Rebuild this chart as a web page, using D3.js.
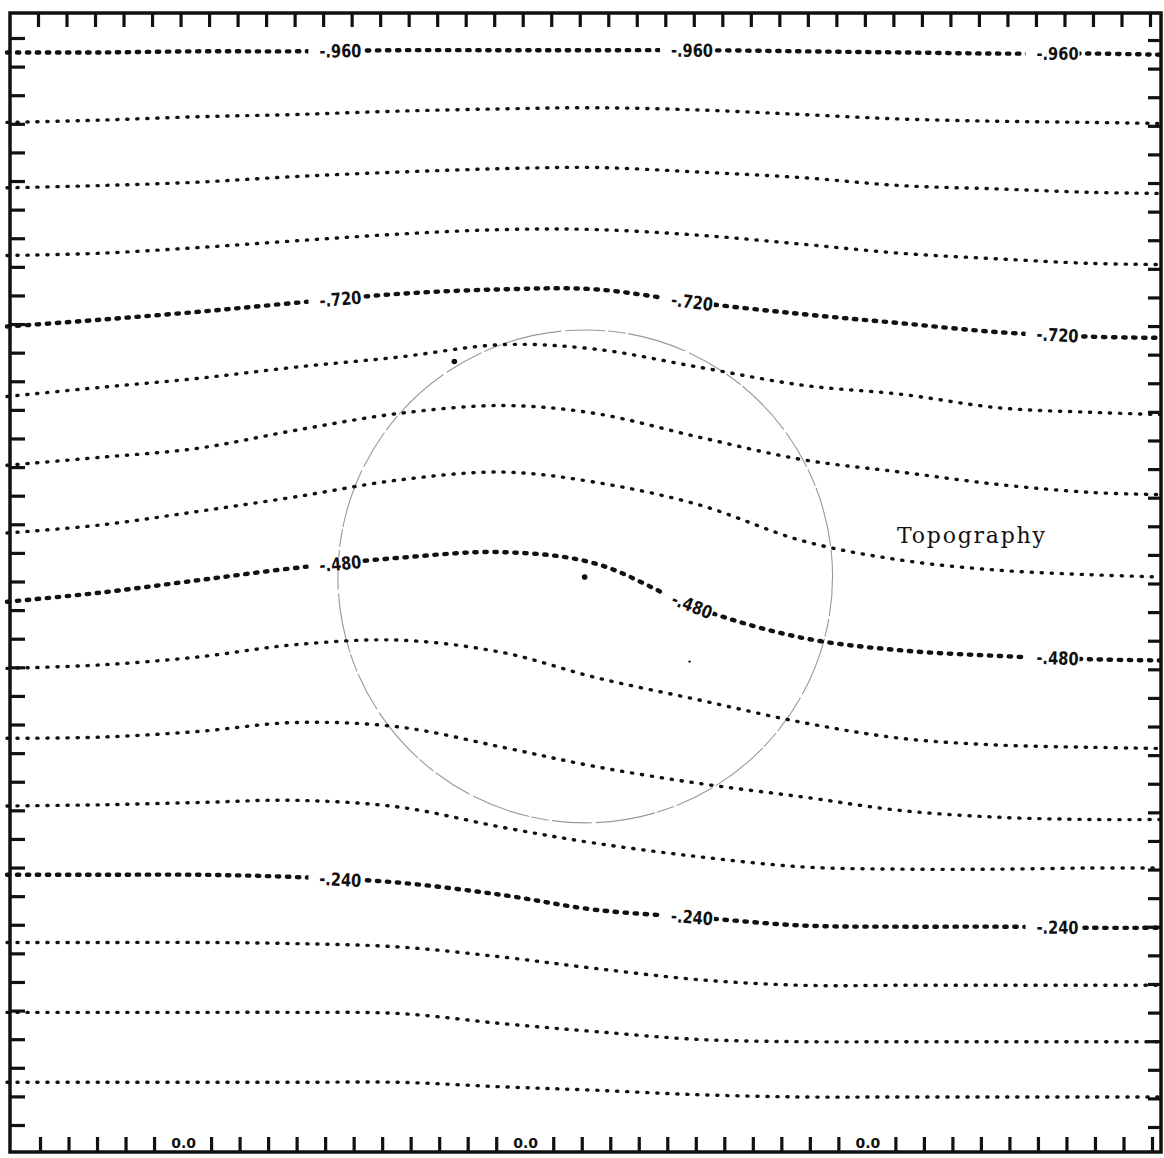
<!DOCTYPE html>
<html>
<head>
<meta charset="utf-8">
<script src="https://cdn.jsdelivr.net/npm/d3@7"></script>
<style>
body { margin: 0; background: #fff; }
svg { display: block; }
.contour-label { font-family: 'DejaVu Sans', sans-serif; font-weight: bold; font-size: 18px; fill: #111; }
.topo-label { font-family: 'DejaVu Serif', serif; font-size: 22px; fill: #111; }
.bottom-label { font-family: 'DejaVu Sans', sans-serif; font-weight: bold; font-size: 14px; fill: #111; }
</style>
</head>
<body>
<div id="chart"></div>
<script>
let width = 1164
let height = 1158

// sample positions along x (fraction of the box width)
let xs = [0, 0.08, 0.165, 0.25, 0.34, 0.43, 0.51, 0.6, 0.69, 0.775, 0.86, 0.94, 1]

// streamline values, top to bottom
let levels = [0.96, 0.90, 0.84, 0.78, 0.72, 0.66, 0.60, 0.54, 0.48, 0.42, 0.36, 0.30, 0.24, 0.18, 0.12, 0.06]

// height of each streamline at xs (fraction of the box height)
let line960 = [0.973, 0.973, 0.974, 0.974, 0.975, 0.975, 0.975, 0.975, 0.974, 0.973, 0.972, 0.972, 0.971]
let line900 = [0.911, 0.913, 0.916, 0.918, 0.921, 0.923, 0.924, 0.922, 0.918, 0.914, 0.912, 0.911, 0.910]
let line840 = [0.853, 0.855, 0.858, 0.863, 0.867, 0.870, 0.871, 0.867, 0.862, 0.855, 0.852, 0.849, 0.848]
let line780 = [0.793, 0.795, 0.800, 0.806, 0.812, 0.816, 0.816, 0.811, 0.803, 0.795, 0.790, 0.786, 0.785]
let line720 = [0.730, 0.736, 0.743, 0.751, 0.759, 0.763, 0.763, 0.751, 0.741, 0.733, 0.725, 0.721, 0.720]
let line660 = [0.668, 0.676, 0.684, 0.694, 0.703, 0.714, 0.710, 0.694, 0.678, 0.670, 0.658, 0.654, 0.652]
let line600 = [0.607, 0.614, 0.622, 0.638, 0.653, 0.660, 0.653, 0.632, 0.612, 0.601, 0.590, 0.583, 0.581]
let line540 = [0.547, 0.554, 0.566, 0.579, 0.594, 0.601, 0.592, 0.572, 0.540, 0.523, 0.514, 0.510, 0.508]
let line480 = [0.486, 0.494, 0.505, 0.516, 0.525, 0.530, 0.520, 0.480, 0.454, 0.443, 0.438, 0.435, 0.434]
let line420 = [0.427, 0.430, 0.437, 0.448, 0.452, 0.441, 0.419, 0.399, 0.379, 0.365, 0.359, 0.357, 0.356]
let line360 = [0.365, 0.366, 0.371, 0.379, 0.375, 0.357, 0.340, 0.325, 0.313, 0.301, 0.295, 0.293, 0.293]
let line300 = [0.305, 0.306, 0.308, 0.310, 0.304, 0.286, 0.272, 0.260, 0.251, 0.249, 0.249, 0.250, 0.250]
let line240 = [0.244, 0.244, 0.244, 0.242, 0.237, 0.226, 0.213, 0.206, 0.199, 0.198, 0.198, 0.197, 0.197]
let line180 = [0.184, 0.184, 0.184, 0.183, 0.180, 0.171, 0.161, 0.151, 0.146, 0.146, 0.146, 0.146, 0.146]
let line120 = [0.122, 0.122, 0.122, 0.122, 0.121, 0.112, 0.105, 0.098, 0.096, 0.096, 0.096, 0.096, 0.096]
let line060 = [0.060, 0.060, 0.060, 0.060, 0.060, 0.056, 0.053, 0.049, 0.047, 0.047, 0.047, 0.047, 0.047]

let lines = [line960, line900, line840, line780, line720, line660, line600, line540,
	line480, line420, line360, line300, line240, line180, line120, line060]

let labelled = [0.96, 0.72, 0.48, 0.24]
let labelXs = [0.29, 0.595, 0.912]

// topography circle extent, and a few stray points
let topoX = [0.287, 0.716]
let topoY = [0.290, 0.727]
let spots = [[0.388, 0.699], [0.501, 0.508], [0.592, 0.433]]

let bottomLabels = ['0.0', '0.0', '0.0']
let bottomLabelTicks = [5, 17, 29]

let xScale = d3.scaleLinear().domain([0, 1]).range([7, 1160])
let yScale = d3.scaleLinear().domain([0, 1]).range([1150, 22])

// tick marks round the frame
let xTick = d3.scaleLinear().domain([0, 39]).range([38, 1150])
let yTick = d3.scaleLinear().domain([0, 38]).range([38, 1125])

let frame = { left: 10, right: 1161, top: 13, bottom: 1152 }

let svg = d3.select('#chart').append('svg')
	.attr('width', width)
	.attr('height', height)

svg.append('rect')
	.attr('width', width).attr('height', height).attr('fill', '#fff')

// topography circle
let cx = (topoX[0] + topoX[1]) / 2
let cy = (topoY[0] + topoY[1]) / 2
svg.append('ellipse')
	.attr('cx', xScale(cx))
	.attr('cy', yScale(cy))
	.attr('rx', (xScale(topoX[1]) - xScale(topoX[0])) / 2)
	.attr('ry', (yScale(topoY[0]) - yScale(topoY[1])) / 2)
	.attr('fill', 'none')
	.attr('stroke', '#999')
	.attr('stroke-width', 1.1)
	.attr('stroke-dasharray', '40 3 18 2 60 4')

svg.selectAll('.spot')
	.data(spots)
	.enter().append('circle')
	.attr('class', 'spot')
	.attr('cx', d => xScale(d[0]))
	.attr('cy', d => yScale(d[1]))
	.attr('r', (d, i) => i == 2 ? 1.2 : 2.8)
	.attr('fill', '#111')

let lineGen = d3.line()
	.x(d => xScale(d[0]))
	.y(d => yScale(d[1]))
	.curve(d3.curveCatmullRom.alpha(0.5))

let marks = svg.append('g')

lines.forEach((vals, i) => {
	let bold = labelled.includes(levels[i])
	marks.append('path')
		.datum(xs.map((x, j) => [x, vals[j]]))
		.attr('d', lineGen)
		.attr('fill', 'none')
		.attr('stroke', '#111')
		.attr('stroke-linecap', 'round')
		.attr('stroke-width', bold ? 4.4 : 3.4)
		.attr('stroke-dasharray', bold ? '2.4 7.6' : '1.2 8.8')
})

// labels sit in gaps of the labelled lines
let labelShell = svg.append('g')
lines.forEach((vals, i) => {
	if (!labelled.includes(levels[i])) return
	let interp = d3.scaleLinear().domain(xs).range(vals)
	let txt = '-' + d3.format('.3f')(levels[i]).replace(/^0/, '')
	labelXs.forEach(lx => {
		let px = xScale(lx)
		let py = yScale(interp(lx))
		let dx = xScale(lx + 0.01) - xScale(lx - 0.01)
		let dy = yScale(interp(lx + 0.01)) - yScale(interp(lx - 0.01))
		let angle = Math.atan2(dy, dx) * 180 / Math.PI
		let g = labelShell.append('g')
			.attr('transform', `translate(${px},${py}) rotate(${angle})`)
		g.append('rect').attr('fill', '#fff')
			.attr('x', -33).attr('y', -7).attr('width', 54).attr('height', 14)
		g.append('text')
			.attr('class', 'contour-label')
			.attr('x', -22)
			.attr('dy', '0.36em')
			.attr('textLength', 42)
			.attr('lengthAdjust', 'spacingAndGlyphs')
			.text(txt)
	})
})

svg.append('text')
	.attr('class', 'topo-label')
	.attr('x', 897)
	.attr('y', 543)
	.attr('textLength', 148)
	.attr('lengthAdjust', 'spacing')
	.text('Topography')

// frame and ticks
let axisShell = svg.append('g')
axisShell.append('rect')
	.attr('x', frame.left).attr('y', frame.top)
	.attr('width', frame.right - frame.left)
	.attr('height', frame.bottom - frame.top)
	.attr('fill', 'none')
	.attr('stroke', '#111')
	.attr('stroke-width', 3.5)

let topAxis = d3.axisTop(xTick).tickValues(d3.range(40)).tickSize(-14).tickFormat('')
let bottomAxis = d3.axisBottom(xTick)
	.tickValues(d3.range(40).filter(k => !bottomLabelTicks.includes(k)))
	.tickSize(-15).tickFormat('')
let leftAxis = d3.axisLeft(yTick).tickValues(d3.range(39)).tickSize(-15).tickFormat('')
let rightAxis = d3.axisRight(yTick).tickValues(d3.range(39)).tickSize(-13).tickFormat('')

axisShell.append('g').attr('transform', `translate(0,${frame.top})`).call(topAxis)
axisShell.append('g').attr('transform', `translate(2,${frame.bottom})`).call(bottomAxis)
axisShell.append('g').attr('transform', `translate(${frame.left},0)`).call(leftAxis)
axisShell.append('g').attr('transform', `translate(${frame.right},2)`).call(rightAxis)

axisShell.selectAll('.domain').remove()
axisShell.selectAll('.tick line').attr('stroke', '#111').attr('stroke-width', 3.2)

axisShell.selectAll('.bottom-label')
	.data(bottomLabels)
	.enter().append('text')
	.attr('class', 'bottom-label')
	.attr('x', (d, i) => xTick(bottomLabelTicks[i]) + 3)
	.attr('y', frame.bottom - 4)
	.attr('text-anchor', 'middle')
	.text(d => d)
</script>
</body>
</html>
